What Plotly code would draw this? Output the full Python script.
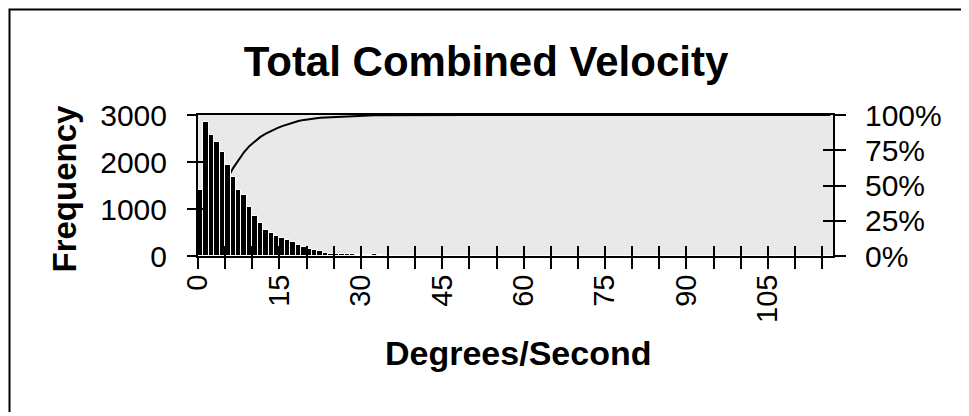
import plotly.graph_objects as go

# ---- data ----
bins = list(range(0, 117))  # degrees/second bins
freq_head = [1400, 2860, 2580, 2420, 2220, 1940, 1690, 1400, 1300, 1050,
             850, 700, 560, 480, 430, 380, 330, 290, 240, 200,
             150, 120, 100, 60, 50, 50, 40, 40, 35, 30,
             30, 25, 50, 15, 10, 10, 8, 5, 5, 3, 2]
frequency = freq_head + [0] * (len(bins) - len(freq_head))
x_tick_vals = list(range(0, 116, 5))
x_tick_text = [str(v) if v % 15 == 0 else "" for v in x_tick_vals]
freq_ticks = [0, 1000, 2000, 3000]
pct_ticks = [0, 0.25, 0.5, 0.75, 1.0]
pct_text = ["0%", "25%", "50%", "75%", "100%"]

total = sum(frequency)
cum = []
run = 0
for f in frequency:
    run += f
    cum.append(run / total)

centers = [b + 0.5 for b in bins]

FONT = "Liberation Sans, Arial, sans-serif"
# page has an 8px body margin; figure coordinates = page coordinates - 8
W, H = 961, 408
L, R, T, B = 190, 136, 107, 160
pw, ph = W - L - R, H - T - B

def px(x):
    return (x - L) / pw

def py(y):
    return (H - B - y) / ph

fig = go.Figure()
# cumulative line on the base subplot (drawn underneath the bars)
fig.add_trace(go.Scatter(x=centers, y=cum, mode="lines",
                         line=dict(color="black", width=2),
                         xaxis="x", yaxis="y", showlegend=False, hoverinfo="skip"))
# bars on overlaying frequency axis (drawn on top)
fig.add_trace(go.Bar(x=centers, y=frequency, width=1.0,
                     marker=dict(color="black", line=dict(width=1, color="white")),
                     xaxis="x", yaxis="y2", showlegend=False))
# empty helpers carrying the inside half of the crossing tick marks
fig.add_trace(go.Scatter(x=[], y=[], xaxis="x2", yaxis="y3", showlegend=False))
fig.add_trace(go.Scatter(x=[], y=[], xaxis="x2", yaxis="y4", showlegend=False))

xr = [0, 117]
fig.update_layout(
    width=W, height=H,
    margin=dict(l=L, r=R, t=T, b=B, pad=0),
    paper_bgcolor="white",
    plot_bgcolor="#e9e9e9",
    font=dict(family=FONT, color="black", size=29),
    title=dict(text="<b>Total Combined Velocity</b>", x=(486 - 8) / W, xref="container",
               y=1 - 53 / H, yref="container", yanchor="middle", xanchor="center",
               font=dict(family=FONT, size=42, color="black")),
    bargap=0,
    xaxis=dict(range=xr, tickmode="array", tickvals=x_tick_vals, ticktext=x_tick_text,
               tickangle=-90, ticks="outside", ticklen=11, tickwidth=2, tickcolor="black",
               showline=True, linecolor="black", linewidth=2, mirror=True,
               showgrid=False, zeroline=False, anchor="y",
               tickfont=dict(size=29), ticklabelstandoff=-6),
    xaxis2=dict(range=xr, overlaying="x", tickmode="array", tickvals=x_tick_vals,
                ticks="inside", ticklen=10, tickwidth=2, tickcolor="black",
                showticklabels=False, showline=False, showgrid=False, zeroline=False,
                anchor="y", side="bottom"),
    yaxis=dict(range=[0, 1], side="right", tickmode="array", tickvals=pct_ticks,
               ticktext=pct_text, ticks="outside", ticklen=11, tickwidth=2,
               tickcolor="black", showline=True, linecolor="black", linewidth=2,
               showgrid=False, zeroline=False, anchor="x",
               tickfont=dict(size=30), ticklabelstandoff=13),
    yaxis2=dict(range=[0, 3000], overlaying="y", side="left", tickmode="array",
                tickvals=freq_ticks, ticks="outside", ticklen=9, tickwidth=2,
                tickcolor="black", showline=True, linecolor="black", linewidth=2,
                showgrid=False, zeroline=False, anchor="x",
                tickfont=dict(size=30), ticklabelstandoff=14),
    yaxis3=dict(range=[0, 1], overlaying="y", side="right", tickmode="array",
                tickvals=pct_ticks, ticks="inside", ticklen=10, tickwidth=2,
                tickcolor="black", showticklabels=False, showline=False,
                showgrid=False, zeroline=False, anchor="x2"),
    yaxis4=dict(range=[0, 3000], overlaying="y", side="left", tickmode="array",
                tickvals=freq_ticks, ticks="inside", ticklen=5, tickwidth=2,
                tickcolor="black", showticklabels=False, showline=False,
                showgrid=False, zeroline=False, anchor="x2"),
    annotations=[
        dict(text="<b>Frequency</b>", textangle=-90, xref="paper", yref="paper",
             x=px(56), y=py(180.5), xanchor="center", yanchor="middle",
             showarrow=False, font=dict(family=FONT, size=33, color="black")),
        dict(text="<b>Degrees/Second</b>", xref="paper", yref="paper",
             x=px(509.5), y=py(345), xanchor="center", yanchor="middle",
             showarrow=False, font=dict(family=FONT, size=34, color="black")),
    ],
    shapes=[
        dict(type="path", xref="paper", yref="paper",
             path=f"M {px(1.5)},{py(404)} L {px(1.5)},{py(1.5)} L {px(956)},{py(1.5)} L {px(956)},{py(300)}",
             line=dict(color="black", width=2)),
    ],
)

fig.write_html("out.html")
